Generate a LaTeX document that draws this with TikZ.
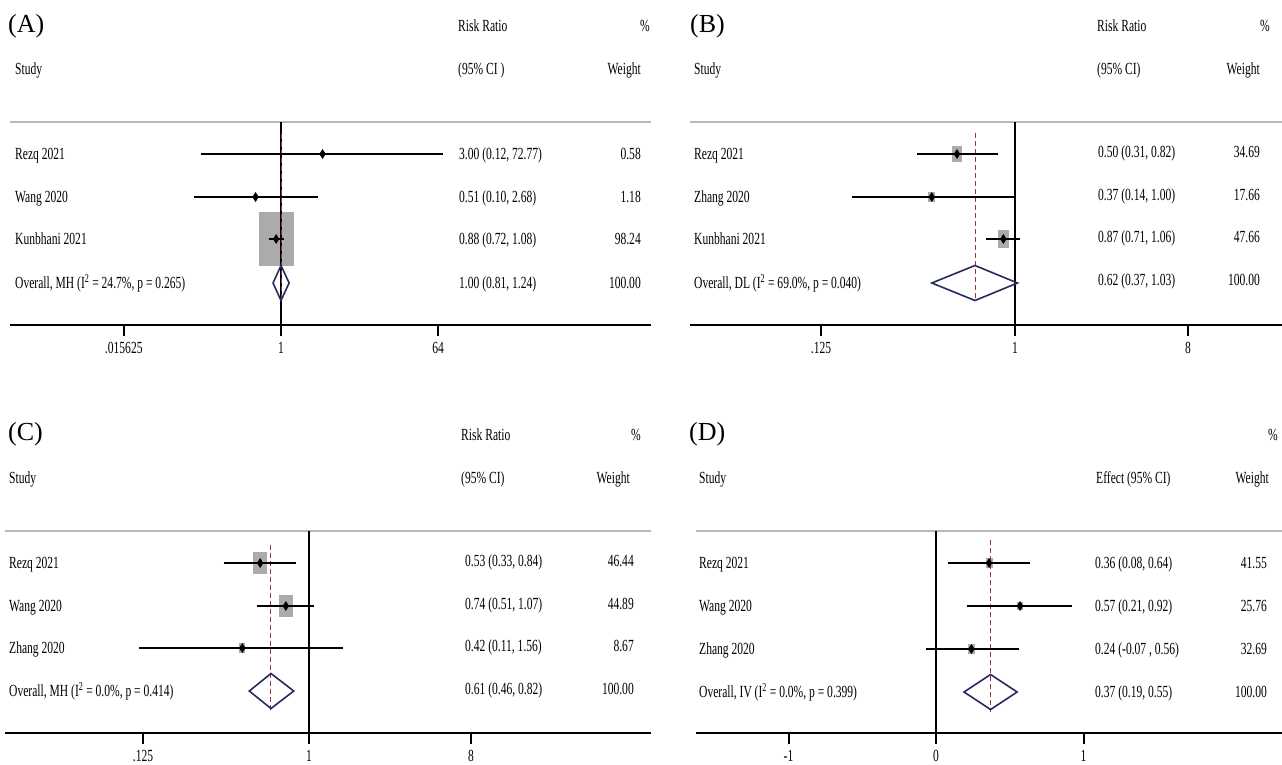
\documentclass[tikz,border=0pt]{standalone}
\usepackage{fontspec}
\setmainfont{Liberation Serif}
\newfontfamily\narrowserif{Liberation Serif}[FakeStretch=0.68]
\definecolor{pooledblue}{RGB}{38,42,98}
\definecolor{refred}{RGB}{160,50,60}

\tikzset{
  declare function={
    xa(\v)=281+26.2*ln(\v)/ln(2);
    xb(\v)=1015+58*ln(\v)/ln(2);
    xc(\v)=309+53.3*ln(\v)/ln(2);
    xd(\v)=936+147.5*(\v);
  },
  txt/.style={font=\narrowserif\fontsize{17}{20}\selectfont, inner sep=0pt, text height=11.5pt, text depth=0pt},
  lefttxt/.style={txt, anchor=west},
  righttxt/.style={txt, anchor=east},
  panel/.style={font=\fontsize{26}{30}\selectfont, inner sep=0pt, anchor=west},
  rule/.style={draw=black!28, line width=1.5pt},
  axisline/.style={draw=black, line width=2pt},
  nullline/.style={draw=black, line width=1.2pt},
  overallline/.style={draw=refred, line width=1pt, dash pattern=on 5pt off 3pt},
  ciline/.style={draw=black, line width=2pt},
  wbox/.style={fill=black!33},
  pooled/.style={draw=pooledblue, line width=1.6pt, line join=miter},
}

% point estimate: x, y
\newcommand{\estpt}[2]{\fill ({#1},{#2}) +(0,-5) -- +(3.2,0) -- +(0,5) -- +(-3.2,0) -- cycle;}
% weight box: x, y, width
\newcommand{\wtbox}[3]{\fill[wbox] ({#1-#3/2},{#2-0.775*#3}) rectangle ({#1+#3/2},{#2+0.775*#3});}

\begin{document}
\begin{tikzpicture}[x=1pt, y=-1pt]
\useasboundingbox (0,0) rectangle (1282,764);

% ---------- (A) ----------
\node[panel] (panA) at (8,26) {(A)};
\node[lefttxt] (rrA) at (458,26) {Risk Ratio};
\node[righttxt] (pcA) at (650,26) {\%};
\node[lefttxt] (stA) at (15,69) {Study};
\node[lefttxt] (ciA) at (458,69) {(95\% CI )};
\node[righttxt] (wtA) at (641,69) {Weight};
\draw[rule] (10,122) -- (651,122);

\wtbox{xa(0.88)}{239}{35}
\draw[nullline] ({xa(1)},122) -- ({xa(1)},325);
\draw[overallline] ({xa(1.00)},134) -- ({xa(1.00)},300);
\draw[ciline] ({xa(0.12)},154) -- ({xa(72.77)},154);
\draw[ciline] ({xa(0.10)},197) -- ({xa(2.68)},197);
\draw[ciline] ({xa(0.72)},239) -- ({xa(1.08)},239);
\estpt{xa(3.00)}{154}
\estpt{xa(0.51)}{197}
\estpt{xa(0.88)}{239}
\draw[pooled] ({xa(0.81)},283) -- ({xa(1.00)},265.5) -- ({xa(1.24)},283) -- ({xa(1.00)},300.5) -- cycle;

\node[lefttxt] (sA1) at (15,154) {Rezq 2021};
\node[lefttxt] (sA2) at (15,197) {Wang 2020};
\node[lefttxt] (sA3) at (15,239) {Kunbhani 2021};
\node[lefttxt] (sA4) at (15,283) {Overall, MH (I\textsuperscript{2} = 24.7\%, p = 0.265)};
\node[lefttxt] (eA1) at (459,154) {3.00 (0.12, 72.77)};
\node[lefttxt] (eA2) at (459,197) {0.51 (0.10, 2.68)};
\node[lefttxt] (eA3) at (459,239) {0.88 (0.72, 1.08)};
\node[lefttxt] (eA4) at (459,283) {1.00 (0.81, 1.24)};
\node[righttxt] (wA1) at (641,154) {0.58};
\node[righttxt] (wA2) at (641,197) {1.18};
\node[righttxt] (wA3) at (641,239) {98.24};
\node[righttxt] (wA4) at (641,283) {100.00};

% Axis
\draw[axisline] (10,325) -- (651,325);
\foreach \t/\lab [count=\i] in {0.015625/.015625, 1/1, 64/64} {
  \draw[axisline] ({xa(\t)},325) -- ({xa(\t)},336);
  \node[txt] (tA\i) at ({xa(\t)},348) {\lab};
}

% ---------- (B) ----------
\node[panel] (panB) at (690,26) {(B)};
\node[lefttxt] (rrB) at (1097,26) {Risk Ratio};
\node[righttxt] (pcB) at (1270,26) {\%};
\node[lefttxt] (stB) at (694,69) {Study};
\node[lefttxt] (ciB) at (1097,69) {(95\% CI)};
\node[righttxt] (wtB) at (1260,69) {Weight};
\draw[rule] (690,122) -- (1282,122);

\wtbox{xb(0.50)}{154}{10}
\wtbox{xb(0.37)}{197}{6.8}
\wtbox{xb(0.87)}{239}{11}
\draw[nullline] ({xb(1)},122) -- ({xb(1)},325);
\draw[overallline] ({xb(0.62)},133) -- ({xb(0.62)},300);
\draw[ciline] ({xb(0.31)},154) -- ({xb(0.82)},154);
\draw[ciline] ({xb(0.14)},197) -- ({xb(1.00)},197);
\draw[ciline] ({xb(0.71)},239) -- ({xb(1.06)},239);
\estpt{xb(0.50)}{154}
\estpt{xb(0.37)}{197}
\estpt{xb(0.87)}{239}
\draw[pooled] ({xb(0.37)},283) -- ({xb(0.62)},265.5) -- ({xb(1.03)},283) -- ({xb(0.62)},300.5) -- cycle;

\node[lefttxt] (sB1) at (694,154) {Rezq 2021};
\node[lefttxt] (sB2) at (694,197) {Zhang 2020};
\node[lefttxt] (sB3) at (694,239) {Kunbhani 2021};
\node[lefttxt] (sB4) at (694,283) {Overall, DL (I\textsuperscript{2} = 69.0\%, p = 0.040)};
\node[lefttxt] (eB1) at (1098,152) {0.50 (0.31, 0.82)};
\node[lefttxt] (eB2) at (1098,195) {0.37 (0.14, 1.00)};
\node[lefttxt] (eB3) at (1098,237) {0.87 (0.71, 1.06)};
\node[lefttxt] (eB4) at (1098,280) {0.62 (0.37, 1.03)};
\node[righttxt] (wB1) at (1260,152) {34.69};
\node[righttxt] (wB2) at (1260,195) {17.66};
\node[righttxt] (wB3) at (1260,237) {47.66};
\node[righttxt] (wB4) at (1260,280) {100.00};

% Axis
\draw[axisline] (690,325) -- (1282,325);
\foreach \x/\lab [count=\i] in {821/.125, 1015/1, 1188/8} {
  \draw[axisline] (\x,325) -- (\x,336);
  \node[txt] (tB\i) at (\x,348) {\lab};
}

% ---------- (C) ----------
\node[panel] (panC) at (8,434) {(C)};
\node[lefttxt] (rrC) at (461,435) {Risk Ratio};
\node[righttxt] (pcC) at (641,435) {\%};
\node[lefttxt] (stC) at (9,478) {Study};
\node[lefttxt] (ciC) at (461,478) {(95\% CI)};
\node[righttxt] (wtC) at (630,478) {Weight};
\draw[rule] (5,531) -- (651,531);

\wtbox{xc(0.53)}{563}{14}
\wtbox{xc(0.74)}{606}{14}
\wtbox{xc(0.42)}{648}{6.2}
\draw[nullline] ({xc(1)},531) -- ({xc(1)},733);
\draw[overallline] ({xc(0.61)},545) -- ({xc(0.61)},712);
\draw[ciline] ({xc(0.33)},563) -- ({xc(0.84)},563);
\draw[ciline] ({xc(0.51)},606) -- ({xc(1.07)},606);
\draw[ciline] ({xc(0.11)},648) -- ({xc(1.56)},648);
\estpt{xc(0.53)}{563}
\estpt{xc(0.74)}{606}
\estpt{xc(0.42)}{648}
\draw[pooled] ({xc(0.46)},691) -- ({xc(0.61)},673.5) -- ({xc(0.82)},691) -- ({xc(0.61)},708.5) -- cycle;

\node[lefttxt] (sC1) at (9,563) {Rezq 2021};
\node[lefttxt] (sC2) at (9,606) {Wang 2020};
\node[lefttxt] (sC3) at (9,648) {Zhang 2020};
\node[lefttxt] (sC4) at (9,691) {Overall, MH (I\textsuperscript{2} = 0.0\%, p = 0.414)};
\node[lefttxt] (eC1) at (465,561) {0.53 (0.33, 0.84)};
\node[lefttxt] (eC2) at (465,604) {0.74 (0.51, 1.07)};
\node[lefttxt] (eC3) at (465,646) {0.42 (0.11, 1.56)};
\node[lefttxt] (eC4) at (465,689) {0.61 (0.46, 0.82)};
\node[righttxt] (wC1) at (634,561) {46.44};
\node[righttxt] (wC2) at (634,604) {44.89};
\node[righttxt] (wC3) at (634,646) {8.67};
\node[righttxt] (wC4) at (634,689) {100.00};

% Axis
\draw[axisline] (5,733) -- (651,733);
\foreach \x/\lab [count=\i] in {143/.125, 309/1, 471/8} {
  \draw[axisline] (\x,733) -- (\x,744);
  \node[txt] (tC\i) at (\x,755.5) {\lab};
}

% ---------- (D) ----------
\node[panel] (panD) at (689,434) {(D)};
\node[righttxt] (pcD) at (1278,435) {\%};
\node[lefttxt] (stD) at (699,478) {Study};
\node[lefttxt] (ciD) at (1096,478) {Effect (95\% CI)};
\node[righttxt] (wtD) at (1269,478) {Weight};
\draw[rule] (696,531) -- (1282,531);

\wtbox{xd(0.36)}{563}{7}
\wtbox{xd(0.57)}{606}{5.6}
\wtbox{xd(0.24)}{649}{6.3}
\draw[nullline] ({xd(0)},531) -- ({xd(0)},733);
\draw[overallline] ({xd(0.37)},540) -- ({xd(0.37)},712);
\draw[ciline] ({xd(0.08)},563) -- ({xd(0.64)},563);
\draw[ciline] ({xd(0.21)},606) -- ({xd(0.92)},606);
\draw[ciline] ({xd(-0.07)},649) -- ({xd(0.56)},649);
\estpt{xd(0.36)}{563}
\estpt{xd(0.57)}{606}
\estpt{xd(0.24)}{649}
\draw[pooled] ({xd(0.19)},692) -- ({xd(0.37)},674.5) -- ({xd(0.55)},692) -- ({xd(0.37)},709.5) -- cycle;

\node[lefttxt] (sD1) at (699,563) {Rezq 2021};
\node[lefttxt] (sD2) at (699,606) {Wang 2020};
\node[lefttxt] (sD3) at (699,649) {Zhang 2020};
\node[lefttxt] (sD4) at (699,692) {Overall, IV (I\textsuperscript{2} = 0.0\%, p = 0.399)};
\node[lefttxt] (eD1) at (1095,563) {0.36 (0.08, 0.64)};
\node[lefttxt] (eD2) at (1095,606) {0.57 (0.21, 0.92)};
\node[lefttxt] (eD3) at (1095,649) {0.24 (-0.07 , 0.56)};
\node[lefttxt] (eD4) at (1095,692) {0.37 (0.19, 0.55)};
\node[righttxt] (wD1) at (1267,563) {41.55};
\node[righttxt] (wD2) at (1267,606) {25.76};
\node[righttxt] (wD3) at (1267,649) {32.69};
\node[righttxt] (wD4) at (1267,692) {100.00};

% Axis
\draw[axisline] (696,733) -- (1282,733);
\foreach \t/\lab [count=\i] in {-1/-1, 0/0, 1/1} {
  \draw[axisline] ({xd(\t)},733) -- ({xd(\t)},744);
  \node[txt] (tD\i) at ({xd(\t)},755.5) {\lab};
}
\end{tikzpicture}
\end{document}
